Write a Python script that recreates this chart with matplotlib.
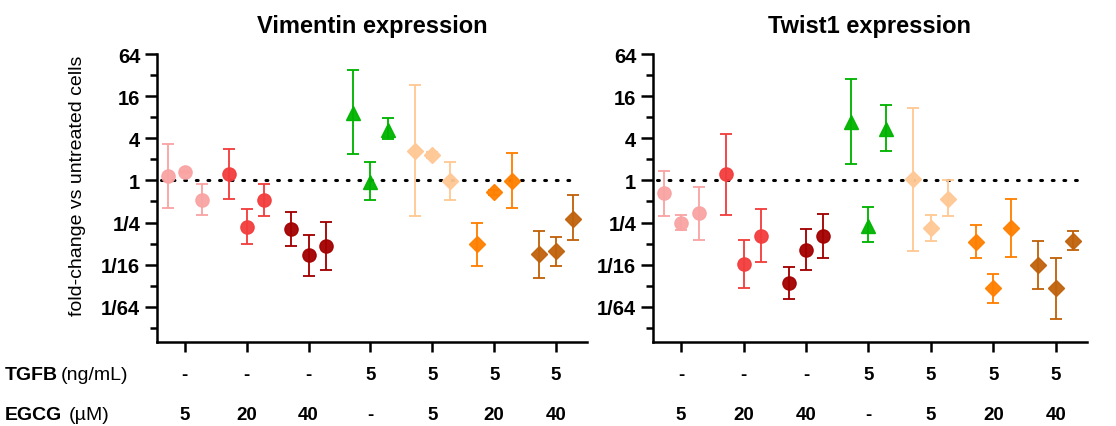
import numpy as np
import matplotlib
matplotlib.use('Agg')
import matplotlib.pyplot as plt

plt.rcParams['font.family'] = ['Liberation Sans', 'DejaVu Sans']

# values, in log2(fold-change); 3 replicates per condition
tgfb_labels = ['-', '-', '-', '5', '5', '5', '5']
egcg_labels = ['5', '20', '40', '-', '5', '20', '40']
colors = ['#F9A3A3', '#F33D3D', '#A30000', '#00B300', '#FFC894', '#FF8000', '#C0620C']
markers = ['o', 'o', 'o', '^', 'D', 'D', 'D']

vim_mean = [[0.22, 0.41, -0.94], [0.29, -2.21, -0.94], [-2.29, -3.56, -3.13],
            [3.19, -0.06, 2.40], [1.41, 1.21, -0.02], [-3.03, -0.57, -0.02],
            [-3.51, -3.35, -1.81]]
vim_top = [[1.75, 0.45, -0.19], [1.48, -1.38, -0.17], [-1.49, -2.60, -1.97],
           [5.25, 0.86, 2.98], [4.54, 1.36, 0.86], [-2.02, -0.47, 1.30],
           [-2.40, -2.67, -0.70]]
vim_bot = [[-1.33, 0.37, -1.65], [-0.90, -3.03, -1.68], [-3.10, -4.54, -4.27],
           [1.25, -0.95, 1.97], [-1.68, 1.06, -0.92], [-4.06, -0.67, -1.33],
           [-4.62, -4.06, -2.84]]

tw_mean = [[-0.62, -2.00, -1.57], [0.29, -3.98, -2.63], [-4.87, -3.29, -2.65],
           [2.75, -2.17, 2.44], [0.06, -2.25, -0.86], [-2.90, -5.11, -2.24],
           [-4.03, -5.11, -2.86]]
tw_top = [[0.46, -1.65, -0.33], [2.21, -2.81, -1.37], [-4.11, -2.33, -1.60],
          [4.81, -1.25, 3.59], [3.43, -1.65, 0.02], [-2.13, -4.43, -0.86],
          [-2.87, -3.67, -2.41]]
tw_bot = [[-1.68, -2.37, -2.81], [-1.65, -5.11, -3.87], [-5.62, -4.24, -3.68],
          [0.78, -2.94, 1.40], [-3.35, -2.86, -1.70], [-3.70, -5.83, -3.63],
          [-5.17, -6.57, -3.32]]

offsets = [-0.28, 0.0, 0.28]


def draw_panel(ax, means, tops, bots, title):
    for i in range(len(means)):
        for j in range(3):
            m = 2.0 ** means[i][j]
            lo = m - 2.0 ** bots[i][j]
            hi = 2.0 ** tops[i][j] - m
            ms = 10 if markers[i] == '^' else (8 if markers[i] == 'D' else 9.5)
            ax.errorbar(i + offsets[j], m, yerr=[[lo], [hi]], fmt=markers[i],
                        color=colors[i], ms=ms, mec=colors[i], elinewidth=1.4,
                        capsize=4, capthick=1.4, ecolor=colors[i], alpha=0.95,
                        zorder=3)
    ax.axhline(1, color='black', lw=2.2, ls=(0, (0.6, 3.2)),
               dash_capstyle='round', xmin=0.01, xmax=0.98, zorder=2)

    ax.set_yscale('log', base=2)
    ax.set_ylim(2 ** -7.67, 2 ** 6)
    ax.set_xlim(-0.45, 6.5)
    yt = [2 ** 6, 2 ** 4, 2 ** 2, 1, 2 ** -2, 2 ** -4, 2 ** -6]
    ax.set_yticks(yt)
    ax.set_yticklabels(['64', '16', '4', '1', '1/4', '1/16', '1/64'],
                       fontsize=14.5, fontweight='bold')
    ax.set_yticks([2.0 ** k for k in range(5, -8, -2)], minor=True)
    ax.yaxis.set_minor_formatter(plt.NullFormatter())
    ax.set_xticks(range(7))
    ax.set_xticklabels([])
    ax.tick_params(axis='y', which='major', length=9, width=1.8, pad=3)
    ax.tick_params(axis='y', which='minor', length=5, width=1.8)
    ax.tick_params(axis='x', which='major', length=7, width=1.8)
    for s in ['top', 'right']:
        ax.spines[s].set_visible(False)
    for s in ['left', 'bottom']:
        ax.spines[s].set_linewidth(1.8)

    pos = ax.get_position()
    fig.text((pos.x0 + pos.x1) / 2, 1 - 26 / 427, title, ha='center',
             va='center', fontsize=17, fontweight='bold')
    for i in range(7):
        xf = fig.transFigure.inverted().transform(ax.transData.transform((i, 1)))[0]
        fig.text(xf, 1 - 376 / 427, tgfb_labels[i], ha='center', va='center',
                 fontsize=13.5, fontweight='bold')
        fig.text(xf, 1 - 416 / 427, egcg_labels[i], ha='center', va='center',
                 fontsize=13.5, fontweight='bold')


fig = plt.figure(figsize=(11.16, 4.27), dpi=100)
ax1 = fig.add_axes([157 / 1116, 1 - 343 / 427, 430 / 1116, 288 / 427])
ax2 = fig.add_axes([653 / 1116, 1 - 343 / 427, 434 / 1116, 288 / 427])

draw_panel(ax1, vim_mean, vim_top, vim_bot, 'Vimentin expression')
draw_panel(ax2, tw_mean, tw_top, tw_bot, 'Twist1 expression')

fig.text(77 / 1116, 1 - 186 / 427, 'fold-change vs untreated cells',
         rotation=90, ha='center', va='center', fontsize=14)

fig.text(5 / 1116, 1 - 376 / 427, 'TGFB', ha='left', va='center',
         fontsize=14, fontweight='bold')
fig.text(61 / 1116, 1 - 376 / 427, '(ng/mL)', ha='left', va='center', fontsize=14)
fig.text(5 / 1116, 1 - 416 / 427, 'EGCG', ha='left', va='center',
         fontsize=14, fontweight='bold')
fig.text(69 / 1116, 1 - 416 / 427, '(µM)', ha='left', va='center', fontsize=14)

fig.savefig('out.png', dpi=100)
